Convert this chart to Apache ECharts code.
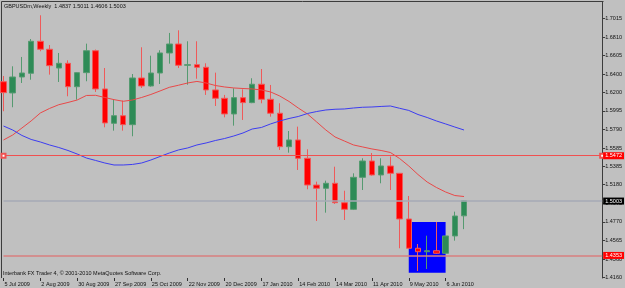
<!DOCTYPE html>
<html><head><meta charset="utf-8">
<script src="https://cdn.jsdelivr.net/npm/echarts@6/dist/echarts.min.js"></script>
<style>html,body{margin:0;padding:0;background:#c0c0c0}#c{width:625px;height:288px}</style>
</head><body><div id="c"></div>
<script>
const weeks = ['5 Jul 2009','12 Jul 2009','19 Jul 2009','26 Jul 2009','2 Aug 2009','9 Aug 2009','16 Aug 2009','23 Aug 2009',
 '30 Aug 2009','6 Sep 2009','13 Sep 2009','20 Sep 2009','27 Sep 2009','4 Oct 2009','11 Oct 2009','18 Oct 2009',
 '25 Oct 2009','1 Nov 2009','8 Nov 2009','15 Nov 2009','22 Nov 2009','29 Nov 2009','6 Dec 2009','13 Dec 2009',
 '20 Dec 2009','27 Dec 2009','3 Jan 2010','10 Jan 2010','17 Jan 2010','24 Jan 2010','31 Jan 2010','7 Feb 2010',
 '14 Feb 2010','21 Feb 2010','28 Feb 2010','7 Mar 2010','14 Mar 2010','21 Mar 2010','28 Mar 2010','4 Apr 2010',
 '11 Apr 2010','18 Apr 2010','25 Apr 2010','2 May 2010','9 May 2010','16 May 2010','23 May 2010','30 May 2010',
 '6 Jun 2010','13 Jun 2010','20 Jun 2010'];
const opens  = [1.6317,1.6193,1.6369,1.6410,1.6763,1.6675,1.6468,1.6520,1.6262,1.6417,1.6659,1.6237,1.5858,1.5942,1.5843,1.6358,
 1.6270,1.6413,1.6634,1.6733,1.6498,1.6505,1.6476,1.6226,1.6134,1.5961,1.6141,1.6086,1.6289,1.6123,1.5969,1.5600,
 1.5674,1.5472,1.5177,1.5141,1.5196,1.4982,1.4909,1.5262,1.5442,1.5288,1.5387,1.5306,1.4802,1.4479,1.4441,1.4452,
 1.4424,1.4615,1.4837];
const highs  = [1.6380,1.6487,1.6590,1.6788,1.7050,1.6722,1.6634,1.6553,1.6420,1.6737,1.6672,1.6468,1.6119,1.6108,1.6402,1.6697,
 1.6604,1.6664,1.6855,1.6884,1.6763,1.6763,1.6520,1.6417,1.6171,1.6244,1.6233,1.6355,1.6457,1.6281,1.6079,1.5773,
 1.5821,1.5571,1.5214,1.5225,1.5379,1.5114,1.5306,1.5472,1.5530,1.5472,1.5492,1.5310,1.5056,1.4526,1.4618,1.4769,
 1.4620,1.4883,1.5011];
const lows   = [1.5991,1.6035,1.6303,1.6339,1.6653,1.6395,1.6314,1.6156,1.6119,1.6322,1.6204,1.5814,1.5777,1.5777,1.5715,1.6248,
 1.6262,1.6292,1.6516,1.6468,1.6284,1.6350,1.6171,1.6049,1.5924,1.5832,1.5895,1.6080,1.6079,1.5931,1.5564,1.5534,
 1.5343,1.5130,1.4780,1.4872,1.4968,1.4791,1.4901,1.5122,1.5280,1.5196,1.5122,1.4479,1.4470,1.4228,1.4250,1.4418,
 1.4418,1.4563,1.4690];
const closes = [1.6196,1.6369,1.6413,1.6763,1.6675,1.6494,1.6520,1.6262,1.6417,1.6659,1.6237,1.5862,1.5942,1.5843,1.6358,1.6270,
 1.6413,1.6634,1.6733,1.6498,1.6505,1.6476,1.6226,1.6134,1.5961,1.6141,1.6086,1.6289,1.6123,1.5969,1.5600,1.5674,
 1.5472,1.5177,1.5141,1.5196,1.4982,1.4909,1.5262,1.5442,1.5288,1.5387,1.5306,1.4802,1.4479,1.4441,1.4452,1.4424,
 1.4615,1.4835,1.5003];
const maRed  = [1.5674,1.5729,1.5806,1.5884,1.5972,1.6022,1.6063,1.6088,1.6115,1.6165,1.6167,1.6143,1.6119,1.6101,1.6115,1.6143,
 1.6176,1.6215,1.6255,1.6278,1.6303,1.6320,1.6303,1.6275,1.6259,1.6248,1.6242,1.6237,1.6226,1.6204,1.6159,1.6099,
 1.6027,1.5961,1.5873,1.5784,1.5707,1.5663,1.5619,1.5597,1.5575,1.5558,1.5536,1.5470,1.5387,1.5293,1.5210,1.5150,
 1.5100,1.5061,1.5050];
const maBlue = [1.5828,1.5784,1.5724,1.5680,1.5652,1.5619,1.5591,1.5558,1.5519,1.5475,1.5448,1.5420,1.5398,1.5398,1.5404,1.5420,
 1.5453,1.5492,1.5530,1.5564,1.5586,1.5619,1.5641,1.5668,1.5690,1.5718,1.5751,1.5795,1.5812,1.5851,1.5884,1.5911,
 1.5933,1.5966,1.5988,1.6005,1.6013,1.6016,1.6027,1.6035,1.6038,1.6044,1.6049,1.6024,1.6000,1.5955,1.5922,1.5884,
 1.5851,1.5817,1.5784];
const yTicks = [1.7015,1.6810,1.6605,1.6400,1.6200,1.5995,1.5790,1.5585,1.5385,1.5180,1.4975,1.4770,1.4565,1.4360,1.4160];
const levelRed = 1.5472, levelBid = 1.5003, levelLow = 1.4353;
const boxFrom = ['9 May 2010', 1.4769], boxTo = ['6 Jun 2010', 1.4210];
const titleText = 'GBPUSDm,Weekly  1.4837 1.5011 1.4606 1.5003';
const footText = 'Interbank FX Trader 4, \u00a9 2001-2010 MetaQuotes Software Corp.';
const padSlots = 15;

const cats = weeks.concat(Array.from({length: padSlots}, (_, i) => 'pad' + i));
const candle = weeks.map((_, i) => [opens[i], closes[i], lows[i], highs[i]]);
const FONT = 'Liberation Sans';
const FS = 5.5;
const showIdx = (i) => i % 4 === 0 && i < weeks.length;

const chart = echarts.init(document.getElementById('c'), null, {renderer: 'canvas'});
function lvl(v, bg, line, w) {
  return {yAxis: v, lineStyle: {color: line, width: w, type: 'solid'},
    label: {show: true, position: 'end', distance: 1, formatter: v.toFixed(4), backgroundColor: bg,
      color: '#fff', padding: [1, 2, 0, 2], fontSize: FS, fontFamily: FONT}};
}
chart.setOption({
  backgroundColor: '#c0c0c0',
  animation: false,
  grid: {left: 3.5, right: 21.5, top: 1.5, bottom: 10, show: false},
  xAxis: {type: 'category', data: cats, boundaryGap: false,
    axisLine: {show: false},
    axisTick: {show: true, interval: showIdx, length: 3, lineStyle: {color: '#303030'}},
    axisLabel: {interval: showIdx, align: 'left', fontSize: FS, fontFamily: FONT, color: '#111', margin: 3,
      padding: [0, 0, 0, 1], formatter: (v) => v.indexOf('pad') === 0 ? '' : v},
    splitLine: {show: false}},
  yAxis: {type: 'value', position: 'right', min: 1.4151, max: 1.7202,
    axisLine: {show: true, lineStyle: {color: '#3c3c3c', width: 1}},
    axisTick: {show: true, customValues: yTicks, length: 3, lineStyle: {color: '#3c3c3c'}},
    axisLabel: {customValues: yTicks, formatter: (v) => v.toFixed(4), fontSize: FS, fontFamily: FONT, color: '#111', margin: 3},
    splitLine: {show: false}},
  graphic: [
    {type: 'line', shape: {x1: 1.5, y1: 1.5, x2: 603.5, y2: 1.5}, style: {stroke: '#3c3c3c', lineWidth: 1}, silent: true},
    {type: 'line', shape: {x1: 1.5, y1: 1.5, x2: 1.5, y2: 278}, style: {stroke: '#3c3c3c', lineWidth: 1}, silent: true},
    {type: 'text', left: 4, top: 3, style: {text: titleText, fontSize: FS, fontFamily: FONT, fill: '#111'}, z: 100},
    {type: 'text', left: 3, top: 270, style: {text: footText, fontSize: FS, fontFamily: FONT, fill: '#111'}, z: 100}
  ],
  series: [
    {type: 'line', data: [], z: 1,
      markArea: {silent: true, itemStyle: {color: '#0000ff', opacity: 1},
        data: [[{coord: boxFrom}, {coord: boxTo}]]},
      markLine: {silent: true, symbol: ['none', 'none'], animation: false,
        data: [lvl(levelBid, '#000000', '#a6aab6', 1.5), lvl(levelLow, '#ff0000', '#d97f7f', 1.5)]}},
    {type: 'line', data: [], z: 2,
      markLine: {silent: true, symbol: ['emptyRect', 'emptyRect'], symbolSize: 4, animation: false,
        data: [lvl(levelRed, '#ff0000', '#f05050', 1)]}},
    {type: 'candlestick', data: candle, z: 3, barWidth: 6,
      itemStyle: {color: '#2e8b57', color0: '#ff0000', borderColor: '#559a70', borderColor0: '#ef5a5a', borderWidth: 1}},
    {type: 'line', data: maRed, z: 4, showSymbol: false, symbol: 'none', lineStyle: {color: '#e84848', width: 1}},
    {type: 'line', data: maBlue, z: 4, showSymbol: false, symbol: 'none', lineStyle: {color: '#3c3cf0', width: 1}}
  ]
});
</script></body></html>
